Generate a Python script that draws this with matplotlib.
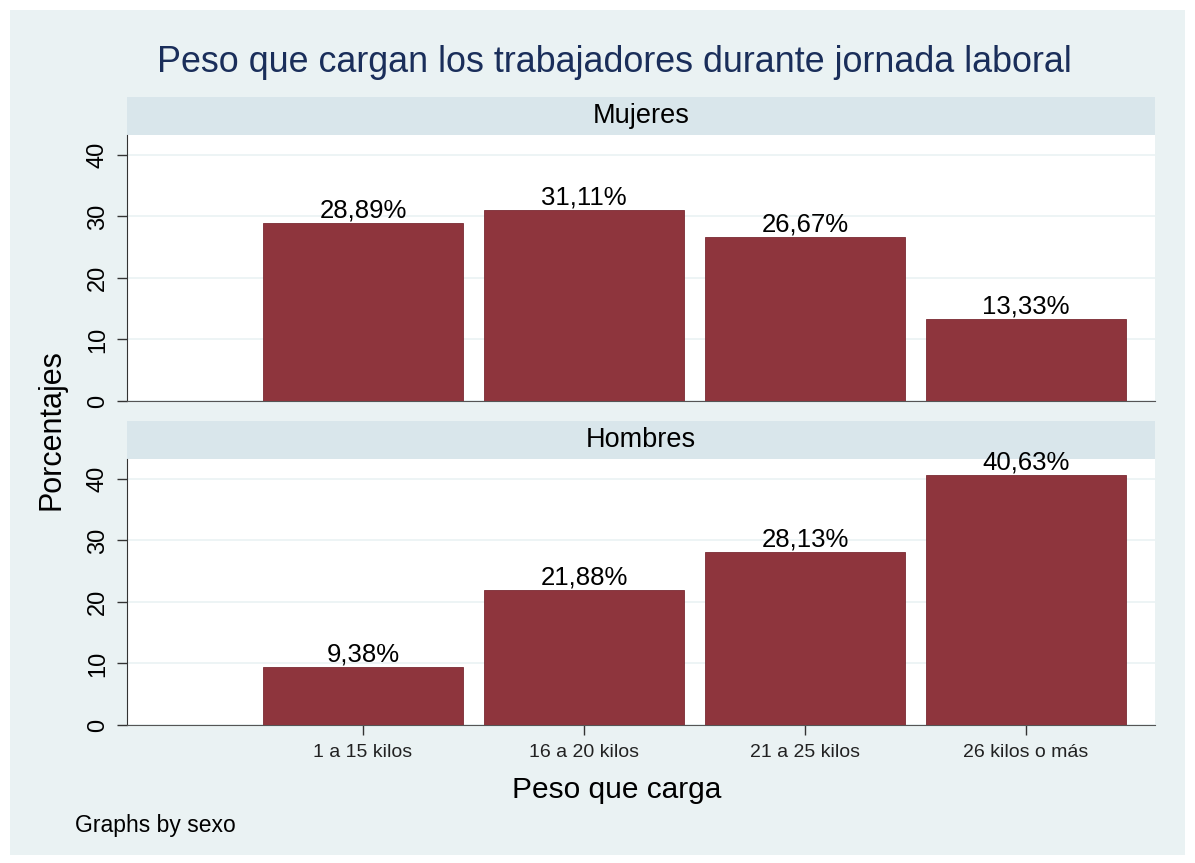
import matplotlib
matplotlib.use('Agg')
import matplotlib.pyplot as plt
from matplotlib.patches import Rectangle

plt.rcParams['font.family'] = ['Liberation Sans', 'DejaVu Sans']

categorias = ['1 a 15 kilos', '16 a 20 kilos', '21 a 25 kilos', '26 kilos o más']
mujeres = [28.89, 31.11, 26.67, 13.33]
hombres = [9.38, 21.88, 28.13, 40.63]
paneles = ['Mujeres', 'Hombres']

W, H = 1195, 863
fig = plt.figure(figsize=(W / 100, H / 100), dpi=100)
fig.patch.set_facecolor('white')
fig.patches.append(Rectangle((10 / W, 8 / H), 1175 / W, 845 / H, transform=fig.transFigure,
                             facecolor='#EAF2F3', edgecolor='none', zorder=-10))

bar_color = '#8E353D'
pos = [1, 2, 3, 4]


def panel(top_px, valores, nombre, show_x):
    left, right = 127, 1155
    bottom_px = top_px + 38 + 266
    strip = fig.add_axes([left / W, (H - top_px - 38) / H, (right - left) / W, 38 / H])
    strip.set_zorder(1)
    strip.set_facecolor('#D9E6EB')
    strip.set_xticks([])
    strip.set_yticks([])
    for s in strip.spines.values():
        s.set_visible(False)
    strip.text(0.5, 0.5, nombre, ha='center', va='center', fontsize=19.5, color='black')

    ax = fig.add_axes([left / W, (H - bottom_px) / H, (right - left) / W, 266 / H])
    ax.set_zorder(2)
    ax.bar(pos, valores, width=0.905, color=bar_color, edgecolor='#7A2A33', linewidth=0.6, zorder=3)
    for x, v in zip(pos, valores):
        ax.text(x, v + 0.1, f'{v:.2f}%'.replace('.', ','), ha='center', va='bottom',
                fontsize=18.5, color='black', clip_on=False, zorder=4)
    ax.set_xlim(-0.068, 4.584)
    ax.set_ylim(0, 43.25)
    ax.set_yticks([0, 10, 20, 30, 40])
    ax.set_yticklabels(['0', '10', '20', '30', '40'], rotation=90, va='center', fontsize=17)
    ax.grid(axis='y', color='#EAF2F3', linewidth=1.2, zorder=0)
    ax.spines['top'].set_visible(False)
    ax.spines['right'].set_visible(False)
    ax.spines['left'].set_color('#333333')
    ax.spines['bottom'].set_color('#555555')
    ax.tick_params(axis='y', length=7, width=1, color='#333333', pad=6)
    if show_x:
        ax.set_xticks(pos)
        ax.set_xticklabels(categorias, fontsize=14, color='#222222')
        ax.tick_params(axis='x', length=7, width=1, color='#333333', pad=7)
    else:
        ax.set_xticks([])
    return ax


panel(97, mujeres, paneles[0], False)
panel(421, hombres, paneles[1], True)

fig.text(614 / W, 1 - 62 / H, 'Peso que cargan los trabajadores durante jornada laboral',
         ha='center', va='center', fontsize=25.8, color='#1A2E5A')
fig.text(52 / W, 1 - 430 / H, 'Porcentajes', rotation=90, ha='center', va='center', fontsize=22)
fig.text(617 / W, 1 - 790 / H, 'Peso que carga', ha='center', va='center', fontsize=21.5)
fig.text(75 / W, 1 - 825 / H, 'Graphs by sexo', ha='left', va='center', fontsize=16.5)

fig.savefig('out.png', dpi=100)
